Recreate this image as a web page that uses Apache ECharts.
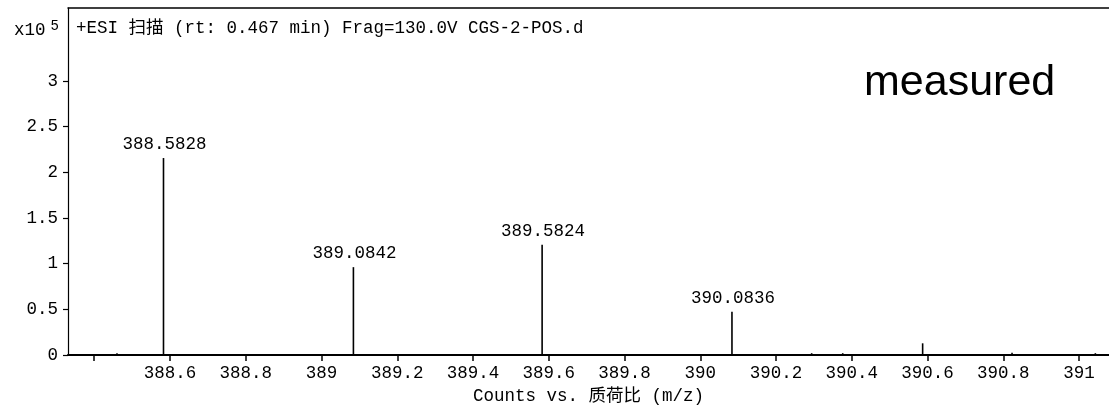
<!DOCTYPE html>
<html>
<head>
<meta charset="utf-8">
<script src="https://cdn.jsdelivr.net/npm/echarts@6/dist/echarts.min.js"></script>
<style>
html,body{margin:0;padding:0;background:#fff;}
#chart{width:1109px;height:412px;}
</style>
</head>
<body>
<div id="chart"></div>
<script>
// m/z of each centroid line
const mz = [388.4600, 388.5828, 389.0842, 389.5824, 390.0836, 390.2940, 390.3760, 390.5870, 390.8230, 391.0430];
// counts (x10^5)
const counts = [0.02, 2.157, 0.962, 1.206, 0.475, 0.02, 0.02, 0.128, 0.025, 0.02];
// peak annotations
const peakLabels = ['', '388.5828', '389.0842', '389.5824', '390.0836', '', '', '', '', ''];
// axis ticks
const yTicks = [0, 0.5, 1, 1.5, 2, 2.5, 3];
const xTicks = [388.4, 388.6, 388.8, 389.0, 389.2, 389.4, 389.6, 389.8, 390.0, 390.2, 390.4, 390.6, 390.8, 391.0];
const xTickLabels = [388.6, 388.8, 389.0, 389.2, 389.4, 389.6, 389.8, 390.0, 390.2, 390.4, 390.6, 390.8, 391.0];
const headerText = '+ESI 扫描 (rt: 0.467 min) Frag=130.0V CGS-2-POS.d';
const xAxisTitle = 'Counts vs. 质荷比 (m/z)';
const yScaleText = 'x10';
const yScaleExp = '5';
const noteText = 'measured';

const MONO = '"Liberation Mono", "Noto Sans CJK SC", monospace';
const FS = 17.5;

const chart = echarts.init(document.getElementById('chart'), null, {renderer: 'canvas'});

const data = mz.map((m, i) => [m, counts[i], peakLabels[i]]);

const option = {
  animation: false,
  backgroundColor: '#fff',
  title: [
    {
      text: yScaleText + '{s|' + yScaleExp + '}',
      left: 9, top: 14,
      textStyle: {
        fontFamily: MONO, fontSize: FS, fontWeight: 'normal', color: '#000',
        rich: { s: { fontFamily: MONO, fontSize: 14, color: '#000', verticalAlign: 'top', padding: [0, 0, 8, 5] } }
      }
    },
    {
      text: headerText,
      left: 71, top: 15,
      textStyle: { fontFamily: MONO, fontSize: FS, fontWeight: 'normal', color: '#000' }
    },
    {
      text: noteText,
      left: 859, top: 57,
      textStyle: { fontFamily: '"Liberation Sans", Arial, sans-serif', fontSize: 43, fontWeight: 'normal', color: '#000' }
    }
  ],
  grid: { left: 68, right: 0, top: 8, bottom: 57, containLabel: false },
  xAxis: [
    {
      type: 'value',
      position: 'bottom',
      min: 388.3307,
      max: 391.079,
      name: xAxisTitle,
      nameLocation: 'middle',
      nameGap: 30,
      nameTextStyle: { fontFamily: MONO, fontSize: FS, color: '#000' },
      axisLine: { show: true, onZero: false, lineStyle: { color: '#000', width: 2 } },
      axisTick: { show: true, inside: false, length: 6, customValues: xTicks, lineStyle: { color: '#000', width: 1.5 } },
      axisLabel: {
        show: true, margin: 10, customValues: xTickLabels,
        fontFamily: MONO, fontSize: FS, color: '#000',
        formatter: v => String(Math.round(v * 10) / 10)
      },
      splitLine: { show: false }
    },
    {
      type: 'value',
      position: 'top',
      min: 388.3307,
      max: 391.079,
      axisLine: { show: true, onZero: false, lineStyle: { color: '#000', width: 1.5 } },
      axisTick: { show: false },
      axisLabel: { show: false },
      splitLine: { show: false }
    }
  ],
  yAxis: {
    type: 'value',
    min: 0,
    max: 3.8,
    axisLine: { show: true, onZero: false, lineStyle: { color: '#000', width: 1.2 } },
    axisTick: { show: true, inside: false, length: 5, customValues: yTicks, lineStyle: { color: '#000', width: 1.2 } },
    axisLabel: {
      show: true, margin: 10, customValues: yTicks,
      fontFamily: MONO, fontSize: FS, color: '#000'
    },
    splitLine: { show: false }
  },
  series: [
    {
      type: 'custom',
      xAxisIndex: 0,
      yAxisIndex: 0,
      clip: true,
      data: data,
      renderItem: function (params, api) {
        const x = api.value(0), y = api.value(1);
        const lbl = data[params.dataIndex][2];
        const p0 = api.coord([x, 0]);
        const p1 = api.coord([x, y]);
        const children = [{
          type: 'line',
          shape: { x1: p0[0], y1: p0[1], x2: p1[0], y2: p1[1] },
          style: { stroke: '#000', lineWidth: 1.6 }
        }];
        if (lbl) {
          children.push({
            type: 'text',
            style: {
              text: lbl, x: p1[0] + 1, y: p1[1] - 5,
              align: 'center', verticalAlign: 'bottom',
              font: FS + 'px ' + MONO, fill: '#000'
            }
          });
        }
        return { type: 'group', children: children };
      }
    }
  ]
};

chart.setOption(option);
</script>
</body>
</html>
